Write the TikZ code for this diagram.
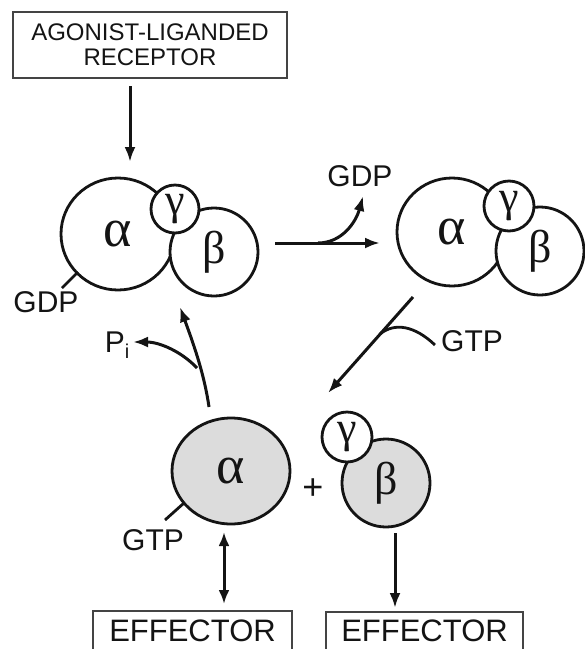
\documentclass[tikz,border=0pt]{standalone}
\usepackage{fontspec}
\setmainfont{Liberation Sans}
\newfontfamily\grk{Liberation Serif}
\usetikzlibrary{shapes.geometric,arrows.meta}
\definecolor{ink}{HTML}{141414}
\definecolor{shade}{HTML}{DCDCDC}
\definecolor{boxline}{HTML}{444444}
\begin{document}
\begin{tikzpicture}[x=1pt,y=-1pt,
  sub/.style={ellipse,draw=ink,line width=2.8pt,fill=white,inner sep=0pt,text=ink},
  act/.style={sub,fill=shade},
  galpha/.style={font=\grk\fontsize{54}{54}\selectfont},
  gbeta/.style={font=\grk\fontsize{46}{46}\selectfont},
  ggamma/.style={font=\grk\fontsize{44}{44}\selectfont},
  lab/.style={text=ink,font=\fontsize{30}{30}\selectfont,inner sep=0pt},
  arr/.style={draw=ink,line width=3pt,-{Latex[length=15pt,width=11pt]}},
  dblarr/.style={draw=ink,line width=3pt,{Latex[length=14pt,width=11pt]}-{Latex[length=14pt,width=11pt]}},
  ln/.style={draw=ink,line width=2.8pt},
  effbox/.style={draw=boxline,line width=2.4pt,rectangle,inner sep=0pt,text=ink,font=\fontsize{32}{32}\selectfont},
  efftext/.style={inner sep=0pt,text=ink,font=\fontsize{31}{31}\selectfont},
  boxedge/.style={draw=boxline,line width=2.4pt}]
\useasboundingbox (0,0) rectangle (585,649);
\clip (0,0) rectangle (585,649);

% receptor box
\node[effbox,minimum width=274pt,minimum height=66pt,align=center,font=\fontsize{24}{25}\selectfont] (rec) at (150,45) {AGONIST-LIGANDED\\RECEPTOR};

% top-left heterotrimer
\node[sub,galpha,minimum width=114pt,minimum height=112pt] (a1) at (118,234) {α};
\node[sub,circle,gbeta,minimum size=88pt] (b1) at (214,252) {β};
\node[sub,circle,ggamma,minimum size=48pt] (g1) at (175,209) {γ};
\node[lab] (gdp1) at (46,302) {GDP};
\coordinate (gl0) at (62,288);
\coordinate (gl1) at (78,272);
\draw[ln] (gl0) -- (gl1);

% top-right heterotrimer
\node[sub,galpha,minimum width=110pt,minimum height=108pt] (a2) at (452,232) {α};
\node[sub,circle,gbeta,minimum size=88pt] (b2) at (540,251) {β};
\node[sub,circle,ggamma,minimum size=50pt] (g2) at (509,206) {γ};

% bottom dissociated subunits
\node[act,galpha,minimum width=118pt,minimum height=106pt] (a3) at (231,471) {α};
\node[act,circle,gbeta,minimum size=88pt] (b3) at (386,483) {β};
\node[sub,circle,ggamma,minimum size=50pt] (g3) at (347,437) {γ};
\node[lab,font=\fontsize{36}{36}\selectfont] (plus) at (313,489) {+};
\node[lab] (gtp1) at (153,540) {GTP};
\coordinate (tl0) at (165,520);
\coordinate (tl1) at (184,503);
\draw[ln] (tl0) -- (tl1);

% receptor activation arrow
\coordinate (r0) at (130,86);
\coordinate (r1) at (130,162);
\draw[arr] (r0) -- (r1);

% GDP release
\coordinate (h0) at (275,243);
\coordinate (h1) at (380,243);
\coordinate (hb) at (318,243);
\coordinate (hg) at (363,196);
\draw[arr] (h0) -- (h1);
\draw[arr] (hb) .. controls (342,243) and (356,222) .. (hg);
\node[lab] (gdp2) at (360,176) {GDP};

% GTP binding
\coordinate (t0) at (413,297);
\coordinate (t1) at (328,393);
\coordinate (t2) at (380,334);
\draw[arr] (t0) -- (t1);
\node[lab] (gtp2) at (472,341) {GTP};
\draw[ln] ([xshift=-6pt,yshift=-4pt]gtp2.west) .. controls (415,326) and (395,322) .. (t2);

% hydrolysis
\coordinate (p0) at (209,407);
\coordinate (p1) at (180,307);
\coordinate (pb) at (197,368);
\coordinate (p2) at (133,342);
\draw[arr] (p0) .. controls (204,372) and (192,340) .. (p1);
\draw[arr] (pb) .. controls (182,352) and (160,342) .. (p2);
\node[lab] (pi) at (117,345) {P\raisebox{-6pt}{\fontsize{20}{20}\selectfont i}};

% effectors (boxes run past the lower edge of the picture)
\node[efftext] (eff1) at (192.5,630.5) {EFFECTOR};
\node[efftext] (eff2) at (424.5,630.5) {EFFECTOR};
\coordinate (e1bl) at (93,660);
\coordinate (e1tl) at (93,611);
\coordinate (e1tr) at (292,611);
\coordinate (e1br) at (292,660);
\coordinate (e2bl) at (326,660);
\coordinate (e2tl) at (326,612);
\coordinate (e2tr) at (523,612);
\coordinate (e2br) at (523,660);
\draw[boxedge] (e1bl) -- (e1tl) -- (e1tr) -- (e1br);
\draw[boxedge] (e2bl) -- (e2tl) -- (e2tr) -- (e2br);
\coordinate (d0) at (224,532);
\coordinate (d1) at (224,604);
\draw[dblarr] (d0) -- (d1);
\coordinate (e0) at (395,533);
\coordinate (e1) at (395,608);
\draw[arr] (e0) -- (e1);
\end{tikzpicture}
\end{document}
